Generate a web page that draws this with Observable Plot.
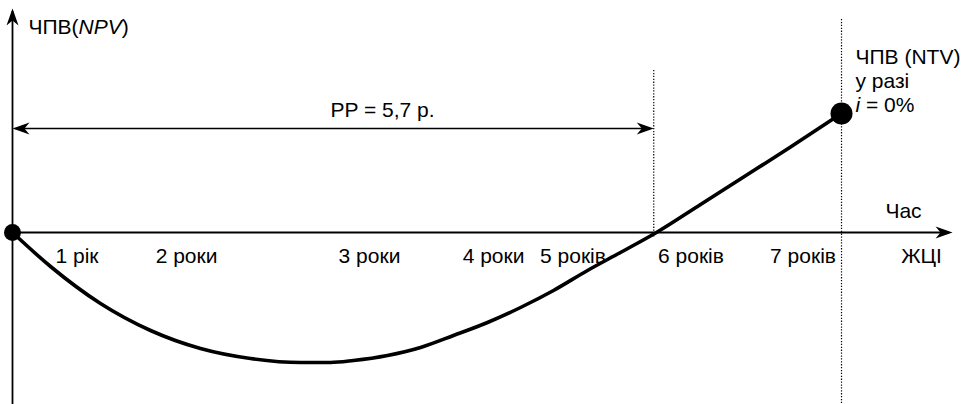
<!DOCTYPE html>
<html>
<head>
<meta charset="utf-8">
<script src="https://cdn.jsdelivr.net/npm/d3@7"></script>
<script src="https://cdn.jsdelivr.net/npm/@observablehq/plot@0.6"></script>
<style>
  html, body { margin: 0; padding: 0; background: #fff; }
</style>
</head>
<body>
<div id="chart"></div>
<script>
// ---- data (schematic NPV profile, x in years, y in NPV units) ----
const curveYears = [0, 0.338, 0.782, 1.227, 1.671, 2.116, 2.56, 2.827, 3.031, 3.333, 3.627, 3.92, 4.222, 4.516, 4.809, 5.111, 5.404, 5.724, 6.116, 6.471, 6.916, 7.369];
const curveNPV   = [0, -3.4, -7.1, -9.8, -11.6, -12.6, -13.0, -13.0, -12.8, -12.3, -11.5, -10.3, -9.0, -7.5, -5.8, -3.8, -2.0, 0, 2.8, 5.35, 8.55, 11.9];

const tickLabels = ["1 рік", "2 роки", "3 роки", "4 роки", "5 років", "6 років", "7 років"];
const tickYears  = [0.573, 1.547, 3.173, 4.276, 4.982, 6.031, 7.027];

const paybackYears = 5.7;      // PP
const paybackLevel = 10.4;     // height of the PP double arrow
const ppLabel = "PP = 5,7 р.";
const ntvYear = 7.369;
const ntvValue = 11.9;
const ntvLines = ["ЧПВ (NTV)", "у разі", "*i* = 0%"];
const ntvLineLevels = [16.9, 14.5, 12.1];

const xAxisEnd = 8.356;
const yAxisTop = 22.4;
const yAxisBottom = -17.2;
const yTitle = "ЧПВ(*NPV*)";
const xTitleTop = "Час";
const xTitleBottom = "ЖЦІ";

// ---- stealth arrowhead symbol (tip at origin, pointing up) ----
const stealth = {
  draw(ctx) {
    ctx.moveTo(0, 0);
    ctx.lineTo(6, 17);
    ctx.lineTo(0, 12);
    ctx.lineTo(-6, 17);
    ctx.closePath();
  }
};

const font = "Liberation Sans, Arial, Helvetica, sans-serif";
const fs = 21;

const chart = Plot.plot({
  width: 966,
  height: 404,
  marginTop: 0, marginRight: 0, marginBottom: 0, marginLeft: 0,
  x: {domain: [-12 / 112.5, 954 / 112.5], axis: null},
  y: {domain: [yAxisBottom, 23.2], axis: null},
  style: {fontFamily: font, fontSize: fs + "px", background: "white", color: "black"},
  marks: [
    // dotted guides
    Plot.ruleX([paybackYears], {y1: 16.2, y2: -0.5, stroke: "black", strokeWidth: 1.2, strokeDasharray: "1.3,1.6"}),
    Plot.ruleX([ntvYear], {y1: 21.3, y2: yAxisBottom, stroke: "black", strokeWidth: 1.2, strokeDasharray: "1.3,1.6"}),
    // axes
    Plot.ruleX([0], {y1: yAxisBottom, y2: yAxisTop - 0.3, stroke: "black", strokeWidth: 1.8}),
    Plot.ruleY([0], {x1: 0, x2: xAxisEnd - 0.03, stroke: "black", strokeWidth: 1.8}),
    // PP double arrow line
    Plot.ruleY([paybackLevel], {x1: 0.03, x2: paybackYears - 0.03, stroke: "black", strokeWidth: 1.5}),
    // NPV curve
    Plot.line(curveYears, {x: curveYears, y: curveNPV, curve: "monotone-x", stroke: "black", strokeWidth: 3.6}),
    // end points
    Plot.dot([0], {x: [0], y: [0], r: 8.5, fill: "black"}),
    Plot.dot([0], {x: [ntvYear], y: [ntvValue], r: 11, fill: "black"}),
    // arrowheads
    Plot.dot([0, 1, 2, 3], {
      x: [0, xAxisEnd, 0, paybackYears],
      y: [yAxisTop, 0, paybackLevel, paybackLevel],
      rotate: [0, 90, -90, 90],
      symbol: stealth, fill: "black", stroke: "none"
    }),
    // tick labels
    Plot.text(tickLabels, {x: tickYears, y: tickYears.map(() => -3.05), text: tickLabels, fontSize: fs, lineAnchor: "bottom", fill: "black"}),
    // titles
    Plot.text([yTitle], {x: [0.142], y: [19.9], text: [yTitle], textAnchor: "start", lineAnchor: "bottom", fontSize: fs, fill: "black"}),
    Plot.text([xTitleTop], {x: [7.92], y: [1.5], text: [xTitleTop], lineAnchor: "bottom", fontSize: fs, fill: "black"}),
    Plot.text([xTitleBottom], {x: [8.08], y: [-3.0], text: [xTitleBottom], lineAnchor: "bottom", fontSize: fs, fill: "black"}),
    Plot.text([ppLabel], {x: [3.289], y: [11.55], text: [ppLabel], lineAnchor: "bottom", fontSize: fs, fill: "black"}),
    Plot.text(ntvLines, {x: ntvLines.map(() => 7.493), y: ntvLineLevels, text: ntvLines, textAnchor: "start", lineAnchor: "bottom", fontSize: fs, fill: "black"})
  ]
});

// italic segments marked with *...*
function italicize(svg) {
  svg.querySelectorAll("text").forEach(t => {
    const spans = t.querySelectorAll("tspan");
    const nodes = spans.length ? [...spans] : [t];
    nodes.forEach(n => {
      const s = n.textContent;
      if (!s.includes("*")) return;
      n.textContent = "";
      s.split("*").forEach((part, i) => {
        if (!part) return;
        const ts = document.createElementNS("http://www.w3.org/2000/svg", "tspan");
        if (i % 2) ts.setAttribute("font-style", "italic");
        ts.textContent = part;
        n.appendChild(ts);
      });
    });
  });
}
italicize(chart);
document.getElementById("chart").appendChild(chart);
</script>
</body>
</html>
